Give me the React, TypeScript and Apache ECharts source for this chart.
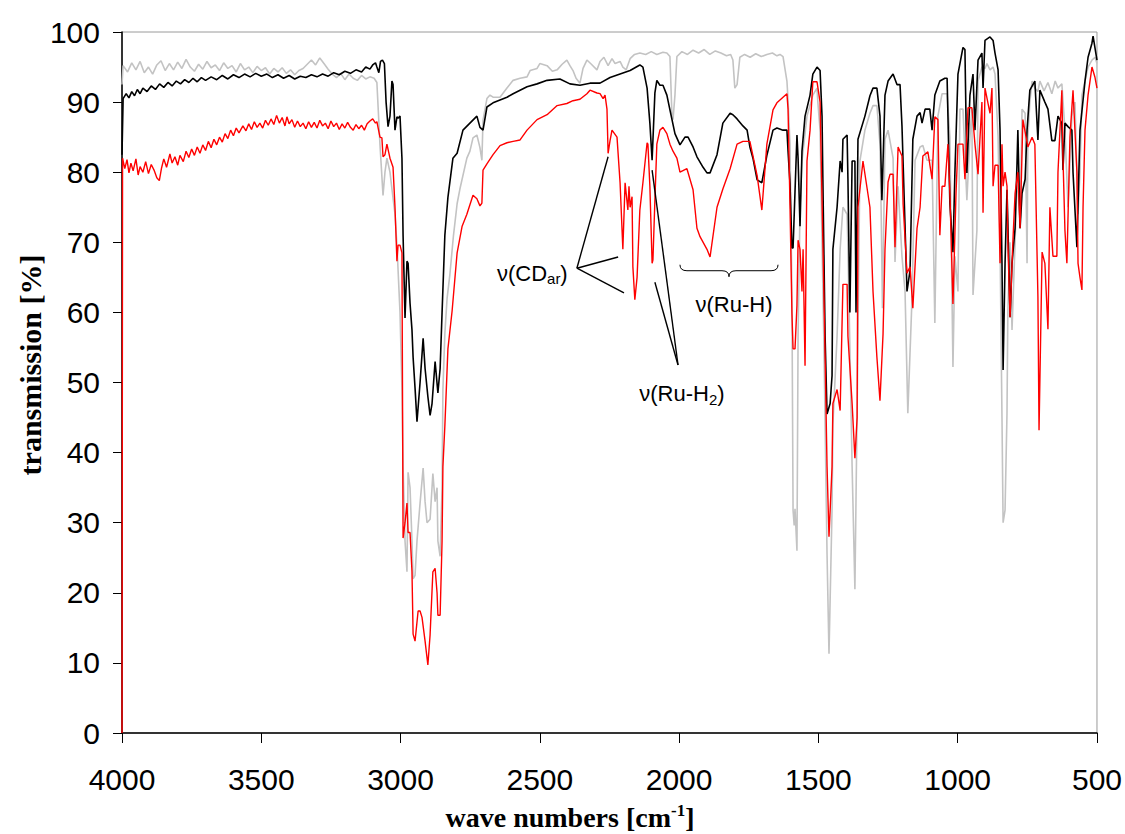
import React, { useEffect, useRef } from "react";
import * as echarts from "echarts";

// wave number [cm-1], transmission [%]
const grayData: [number, number][] = [
[4000,92.5],[3996,95.2],[3980,94.3],[3965,95.6],[3950,94.6],[3935,95.8],[3920,94.2],[3905,95.0],[3890,94.0],[3875,95.3],[3860,95.9],[3845,94.5],[3830,95.5],[3815,94.6],[3800,95.7],[3785,94.8],[3770,96.1],[3755,95.0],[3740,94.4],[3725,95.4],[3710,94.7],[3695,95.8],[3680,94.9],[3665,95.3],[3650,94.5],[3635,95.6],[3620,94.8],[3605,95.2],[3590,94.3],[3575,95.5],[3560,94.6],[3545,95.0],[3530,94.2],[3515,95.1],[3500,94.5],[3485,94.9],[3470,94.0],[3455,94.8],[3440,94.3],[3425,94.9],[3410,94.1],[3395,94.6],[3380,93.9],[3365,94.5],[3350,94.8],[3335,95.4],[3320,96.0],[3305,95.3],[3290,96.3],[3275,95.5],[3260,94.7],[3245,94.0],[3230,93.5],[3215,94.1],[3200,93.2],[3185,94.0],[3170,93.4],[3155,93.1],[3140,93.8],[3125,93.3],[3110,93.6],[3095,93.4],[3085,92.8],[3074,84],[3063,76.7],[3056,80],[3049,82],[3038,80],[3031,77.6],[3020,74],[3013,69.6],[3002,60],[2995,49],[2991,38],[2984,27.4],[2977,23],[2973,37.2],[2966,35],[2959,27.4],[2955,22],[2948,22.5],[2941,27.4],[2930,32.8],[2919,37.8],[2912,33],[2905,30],[2894,30.5],[2884,37],[2876,33],[2869,35],[2866,27.4],[2858,25.2],[2851,35],[2848,49],[2841,57],[2833,62],[2823,65.4],[2810,71],[2797,75.5],[2787,77.6],[2762,82],[2751,83],[2740,84.9],[2726,85.3],[2715,83.5],[2708,81.7],[2704,87.4],[2690,90.5],[2679,91],[2668,90.7],[2643,90.7],[2618,92],[2596,93.1],[2571,93.4],[2546,93.6],[2535,94.5],[2510,94.8],[2500,95.5],[2474,95.2],[2455,94.4],[2438,94.6],[2420,95.4],[2403,96],[2392,95.2],[2381,94.5],[2370,93.4],[2356,92.7],[2345,94.8],[2331,96],[2315,95.4],[2295,94.6],[2284,95.8],[2270,96.4],[2255,95.2],[2241,96.2],[2230,95.5],[2212,95.8],[2202,95],[2190,94.6],[2176,96.2],[2160,96.8],[2141,97],[2120,96.8],[2100,97.2],[2080,96.8],[2058,97.1],[2044,97],[2033,96.5],[2026,88.4],[2022,87.5],[2015,91],[2008,96.5],[1990,97.2],[1970,96.8],[1950,97.4],[1930,97],[1910,97.5],[1890,96.8],[1870,97.3],[1850,97],[1830,96.6],[1815,96.8],[1807,96],[1800,92],[1792,92.5],[1782,96.4],[1765,96.8],[1745,96.4],[1725,96.9],[1705,96.5],[1685,96.8],[1665,97],[1649,96.6],[1638,96.8],[1627,96.5],[1613,93],[1609,90.3],[1602,84],[1595,62],[1591,31.8],[1587,29.6],[1584,32],[1577,26],[1573,56.6],[1566,75],[1559,81.6],[1541,88],[1520,91],[1505,92],[1502,90],[1494,86],[1487,70],[1480,55],[1469,25.5],[1462,11.3],[1451,32],[1448,44],[1433,56.6],[1422,69],[1412,75],[1397,74],[1394,69],[1387,55],[1379,38],[1369,20.5],[1358,56],[1351,81.6],[1333,86],[1315,88.4],[1304,89.5],[1290,89.5],[1279,84],[1275,75],[1270,60.6],[1261,84.7],[1250,86],[1232,82],[1225,67.2],[1214,78],[1200,68],[1189,63],[1179,45.6],[1164,62],[1153,81.7],[1135,83.6],[1125,83.8],[1110,81.7],[1092,81.7],[1082,58.5],[1074,80],[1071,88],[1056,91.2],[1038,91.2],[1028,85],[1017,52.2],[1010,68],[999,63],[992,89],[981,89],[967,76],[956,85],[949,89],[945,62.5],[931,71.7],[927,93],[913,95],[902,94.8],[895,95.5],[884,94.6],[873,95],[866,94],[855,85],[848,70],[841,45],[837,30],[830,31.8],[823,45.6],[820,60],[812,70],[805,57.5],[794,70],[787,80],[776,72],[769,89],[758,88.4],[751,67],[748,85],[741,90],[733,93],[723,92],[712,91.5],[705,93],[690,91.6],[676,92.8],[662,91.2],[650,93],[640,92],[626,92.6],[615,86],[604,75],[590,88],[579,90],[568,74],[561,80],[554,91],[543,93],[532,95],[518,96],[507,96.4],[500,95.5]
];

const blackData: [number, number][] = [
[4000,82.5],[3996,90.5],[3985,91.2],[3975,90.6],[3965,91.5],[3955,90.9],[3945,91.8],[3935,91.2],[3925,92.0],[3910,91.5],[3895,92.3],[3880,91.8],[3865,92.6],[3850,92.1],[3835,92.8],[3820,92.3],[3805,93.0],[3790,92.6],[3775,93.2],[3760,92.8],[3745,93.4],[3730,92.9],[3715,93.5],[3700,93.1],[3680,93.6],[3660,93.2],[3640,93.8],[3620,93.3],[3600,93.9],[3580,93.5],[3560,94.0],[3540,93.6],[3520,94.1],[3500,93.7],[3480,94.0],[3460,93.5],[3440,93.9],[3420,93.4],[3400,93.8],[3380,93.3],[3360,93.7],[3340,93.5],[3320,93.9],[3300,93.6],[3280,94.0],[3260,93.7],[3240,94.2],[3220,93.9],[3200,94.4],[3180,94.1],[3160,94.6],[3140,94.3],[3125,95.0],[3110,94.7],[3100,95.3],[3090,95.6],[3085,95.0],[3078,94.2],[3072,95.8],[3065,96.0],[3058,95.5],[3052,90],[3045,86.5],[3038,88],[3031,93],[3027,92.5],[3020,86],[3013,87.9],[3009,87.7],[3002,88],[2995,82],[2991,71],[2984,59.2],[2977,67.3],[2973,67],[2966,61.3],[2959,57.5],[2955,53.6],[2948,49.2],[2941,44.4],[2930,50],[2919,56.3],[2912,52],[2902,48],[2894,45.3],[2887,47],[2876,53],[2866,48.5],[2858,52],[2851,60],[2841,71],[2830,76.4],[2812,82],[2797,82.7],[2776,86],[2751,87],[2726,88],[2715,86.4],[2704,86],[2690,89.3],[2668,89.9],[2643,90.3],[2618,90.7],[2596,91.2],[2571,91.7],[2546,92.2],[2510,92.6],[2474,93.1],[2428,93.3],[2392,92.6],[2356,92.4],[2320,92.7],[2284,92.7],[2248,93.5],[2212,94],[2176,94.5],[2141,95.3],[2130,95],[2115,92],[2105,87],[2097,81.7],[2087,91.3],[2080,93.1],[2069,92.4],[2058,92.4],[2044,91],[2033,88.9],[2015,85.5],[1997,83.9],[1979,85],[1968,85],[1950,83.6],[1936,82.2],[1914,80.7],[1900,79.9],[1889,79.9],[1864,82.5],[1843,87],[1817,88.4],[1807,88.2],[1792,87.6],[1771,86.6],[1756,86],[1746,83.6],[1735,82],[1720,78.9],[1703,78.5],[1685,82.4],[1663,86],[1649,86.3],[1627,86],[1613,86],[1609,83],[1602,78.4],[1595,69.2],[1591,69.2],[1577,85.3],[1573,82],[1566,72.3],[1559,83],[1548,88],[1530,91],[1520,94],[1505,95],[1494,94.5],[1487,88],[1484,79],[1476,56.6],[1469,45.5],[1458,47],[1451,51],[1448,69],[1433,75],[1422,81.6],[1415,80],[1412,84.7],[1397,85.3],[1394,79],[1387,60],[1379,81.6],[1369,81.6],[1365,60],[1358,84.7],[1333,88],[1315,90.9],[1304,92],[1290,92],[1279,88],[1272,76],[1261,91],[1250,93],[1232,94],[1218,92.5],[1207,92.5],[1200,86.6],[1189,72.3],[1182,63],[1171,66],[1161,84.7],[1146,88],[1135,88.5],[1128,87],[1117,89],[1100,89],[1092,86],[1082,91],[1064,93],[1046,93.4],[1038,93.4],[1035,88],[1028,75.5],[1017,68.6],[1010,80],[999,94],[981,97.8],[974,97.5],[967,79.9],[956,91],[945,94],[938,86],[927,96],[913,97],[909,92],[902,98.8],[884,99.3],[873,98.8],[866,97],[855,94.6],[848,86],[841,67],[837,51.8],[830,67],[823,77.5],[820,73],[812,59.3],[805,67],[794,72],[787,81.3],[784,86],[776,72],[769,77],[758,79],[751,86],[741,91.7],[723,93],[712,84.6],[705,91.7],[687,90],[676,89],[662,84.5],[651,84.5],[640,88],[626,87],[622,80.3],[615,87],[604,86.5],[590,86],[586,80],[572,69.3],[561,86],[543,93],[532,96.4],[518,98.4],[514,99.4],[500,96]
];

const redData: [number, number][] = [
[4000,0],[3998,82],[3990,80.5],[3982,81.8],[3975,79.9],[3968,81.3],[3960,80.2],[3950,81.9],[3942,79.6],[3935,80.8],[3925,80.0],[3915,81.5],[3905,79.8],[3895,81.1],[3885,80.3],[3875,79.2],[3866,78.8],[3858,80.6],[3850,81.9],[3840,80.7],[3828,82.6],[3820,81.3],[3810,82.2],[3800,81.0],[3792,82.4],[3780,81.5],[3770,83.0],[3760,82.1],[3750,83.3],[3740,82.4],[3730,83.6],[3720,82.7],[3710,83.9],[3700,83.1],[3690,84.4],[3680,83.5],[3670,84.7],[3660,83.9],[3650,85.0],[3640,84.3],[3630,85.5],[3620,84.8],[3610,86.0],[3600,85.2],[3590,86.3],[3580,85.6],[3566,86.6],[3555,85.9],[3545,86.9],[3535,86.1],[3525,87.2],[3515,86.4],[3505,87.0],[3495,86.3],[3485,87.4],[3475,86.7],[3465,87.6],[3455,86.8],[3445,88.1],[3435,87.0],[3425,87.8],[3415,86.6],[3408,87.9],[3400,86.9],[3390,87.5],[3380,86.4],[3370,87.3],[3360,86.5],[3350,87.0],[3340,86.2],[3330,87.2],[3320,86.4],[3310,87.1],[3300,86.3],[3290,87.4],[3280,86.6],[3270,87.0],[3260,86.2],[3250,87.3],[3240,86.5],[3230,87.0],[3220,86.1],[3210,86.9],[3200,86.3],[3190,87.1],[3180,86.4],[3170,86.0],[3160,86.8],[3150,86.2],[3140,86.7],[3130,86.0],[3120,86.9],[3110,87.3],[3100,87.6],[3090,87.0],[3085,87.2],[3074,85],[3067,84.9],[3063,82.2],[3056,82.5],[3049,84],[3038,82],[3027,80.7],[3020,75],[3013,67.3],[3009,69.6],[3002,69.6],[2995,68.5],[2991,27.8],[2984,30],[2977,32.8],[2973,28.6],[2966,28.6],[2959,23],[2955,14.1],[2948,13.1],[2937,17.4],[2930,17.4],[2923,16.5],[2912,13.1],[2902,9.7],[2894,14],[2884,23],[2876,23.5],[2869,20],[2866,16.8],[2858,16.8],[2851,27.4],[2848,38],[2841,43.8],[2830,54.8],[2815,60.2],[2797,68.5],[2779,72.3],[2762,74],[2740,76.7],[2726,76.2],[2715,75.2],[2708,75.6],[2704,80.3],[2690,81.2],[2668,82.5],[2643,83.8],[2618,84.2],[2596,84.4],[2571,84.6],[2546,86],[2510,87.5],[2474,88.2],[2438,89.5],[2403,89.8],[2381,90.2],[2356,90.4],[2331,91.2],[2320,91.7],[2295,91.3],[2284,91.2],[2273,90.5],[2266,91],[2259,89],[2255,82.7],[2248,84.5],[2241,86],[2223,85],[2212,78.5],[2202,69],[2194,78.5],[2184,74.6],[2180,78],[2176,75],[2169,76.5],[2166,66.5],[2159,61.8],[2151,65],[2141,74.6],[2130,78.5],[2115,84.2],[2112,84],[2105,78],[2097,67],[2094,67.5],[2087,76],[2080,84],[2069,86],[2058,86.4],[2044,85.5],[2033,84],[2022,83],[2008,82],[1997,80],[1972,80.5],[1950,77.5],[1936,72],[1925,70.8],[1900,69],[1889,67.9],[1864,75],[1843,77.6],[1817,80.5],[1792,84],[1771,84.4],[1746,84.4],[1720,79.5],[1703,74.6],[1685,84],[1663,88.9],[1649,89.9],[1627,90.7],[1613,91.2],[1609,89],[1602,75.3],[1595,59.8],[1591,54.8],[1584,54.8],[1577,61],[1573,70.3],[1566,69],[1559,63],[1555,69],[1548,52.4],[1541,81.6],[1530,86],[1520,92.9],[1505,92.9],[1494,90],[1484,70],[1476,53.6],[1469,38],[1462,28],[1451,38],[1448,47],[1433,49],[1422,46],[1412,64],[1397,64],[1394,56.6],[1379,47],[1369,39.2],[1361,45],[1358,75],[1340,81.6],[1315,75],[1304,63],[1290,53.6],[1279,47.4],[1268,56.9],[1261,69],[1250,78.6],[1243,79.7],[1232,79.7],[1225,69.3],[1214,83.6],[1200,82.3],[1196,75.5],[1182,65.6],[1171,66.5],[1161,60.6],[1146,72],[1135,75],[1125,82.3],[1107,82.9],[1092,79],[1082,87.9],[1071,87.5],[1064,71],[1056,78],[1046,78],[1035,84],[1028,77],[1017,61.2],[1006,77],[999,84],[981,84],[974,79],[963,89.2],[949,89.2],[938,84],[927,79.7],[913,90],[909,74.2],[902,92],[884,88.4],[877,92],[873,78],[866,81],[855,81],[848,67],[841,84],[837,78],[830,80],[823,78],[820,70],[812,59.3],[802,70],[794,77],[784,80],[776,72],[766,87.5],[748,83.6],[733,85],[723,84],[712,62.2],[708,43.2],[697,68.6],[687,67],[676,57.6],[669,75],[658,68],[644,68],[640,80],[626,91.7],[622,82],[615,71.7],[608,67],[597,85],[586,91.7],[572,80],[568,67],[561,65],[554,63.2],[550,75],[543,86],[532,91],[518,95],[507,93.5],[500,92]
];

const xTicks = { min: 500, max: 4000, interval: 500 };
const yTicks = { min: 0, max: 100, interval: 10 };

// annotation anchors in data coordinates [wave number, transmission]
const cdVertex: [number, number] = [2367, 66.3];
const cdTargets: [number, number][] = [[2255, 82.2], [2219, 67.9], [2198, 62.8]];
const cdLabelPos: [number, number] = [2400, 65.6];
const ruh2Vertex: [number, number] = [2004, 52.5];
const ruh2Targets: [number, number][] = [[2097, 80.3], [2087, 64.3]];
const ruh2LabelPos: [number, number] = [1990, 48.4];
const braceFrom: [number, number] = [1997, 66.8];
const braceTo: [number, number] = [1645, 66.8];
const ruhLabelPos: [number, number] = [1803, 61.1];

const SANS = "'Liberation Sans', Arial, sans-serif";
const SERIF = "'Liberation Serif', 'Times New Roman', serif";

export default function App() {
  const ref = useRef<HTMLDivElement>(null);
  useEffect(() => {
    const chart = echarts.init(ref.current!, null, { renderer: "svg" });
    chart.setOption({
      animation: false,
      backgroundColor: "#fff",
      grid: { left: 122, right: 28, top: 32, bottom: 101, show: true, borderColor: "#9a9a9a", borderWidth: 1 },
      xAxis: {
        type: "value", inverse: true, min: xTicks.min, max: xTicks.max, interval: xTicks.interval,
        axisLine: { show: true, lineStyle: { color: "#000", width: 1.5 } },
        axisTick: { show: true, inside: false, length: 10, lineStyle: { color: "#000", width: 1 } },
        axisLabel: { color: "#000", fontSize: 30, fontFamily: SANS, margin: 31, formatter: (v: number) => String(v) },
        splitLine: { show: false },
      },
      yAxis: {
        type: "value", min: yTicks.min, max: yTicks.max, interval: yTicks.interval,
        axisLine: { show: true, lineStyle: { color: "#000", width: 1.5 } },
        axisTick: { show: true, inside: false, length: 9, lineStyle: { color: "#000", width: 1 } },
        axisLabel: { color: "#000", fontSize: 30, fontFamily: SANS, margin: 22, formatter: (v: number) => String(v) },
        splitLine: { show: false },
      },
      series: [
        { type: "line", data: grayData, showSymbol: false, symbol: "none", lineStyle: { color: "#c3c3c3", width: 1.6 }, z: 2 },
        { type: "line", data: blackData, showSymbol: false, symbol: "none", lineStyle: { color: "#000", width: 1.6 }, z: 3 },
        { type: "line", data: redData, showSymbol: false, symbol: "none", lineStyle: { color: "#ff0000", width: 1.4 }, z: 4 },
      ],
    });

    const px = (p: [number, number]) => chart.convertToPixel({ xAxisIndex: 0, yAxisIndex: 0 }, p) as number[];
    const lineStyle = { stroke: "#000", lineWidth: 1.4 };
    const graphics: any[] = [];
    const v1 = px(cdVertex);
    cdTargets.forEach((t) => {
      const q = px(t);
      graphics.push({ type: "line", shape: { x1: v1[0], y1: v1[1], x2: q[0], y2: q[1] }, style: lineStyle, z: 10 });
    });
    const v2 = px(ruh2Vertex);
    ruh2Targets.forEach((t) => {
      const q = px(t);
      graphics.push({ type: "line", shape: { x1: v2[0], y1: v2[1], x2: q[0], y2: q[1] }, style: lineStyle, z: 10 });
    });
    // brace
    const b0 = px(braceFrom);
    const b1 = px(braceTo);
    const xc = (b0[0] + b1[0]) / 2;
    const y0 = b0[1];
    const yl = y0 + 6;
    const yn = y0 + 12;
    const bs = { stroke: "#000", lineWidth: 1, fill: "none" };
    graphics.push(
      { type: "bezierCurve", shape: { x1: b0[0], y1: y0, x2: b0[0] + 7, y2: yl, cpx1: b0[0], cpy1: yl }, style: bs, z: 10 },
      { type: "line", shape: { x1: b0[0] + 7, y1: yl, x2: xc - 7, y2: yl }, style: bs, z: 10 },
      { type: "bezierCurve", shape: { x1: xc - 7, y1: yl, x2: xc, y2: yn, cpx1: xc, cpy1: yl }, style: bs, z: 10 },
      { type: "bezierCurve", shape: { x1: xc, y1: yn, x2: xc + 7, y2: yl, cpx1: xc, cpy1: yl }, style: bs, z: 10 },
      { type: "line", shape: { x1: xc + 7, y1: yl, x2: b1[0] - 7, y2: yl }, style: bs, z: 10 },
      { type: "bezierCurve", shape: { x1: b1[0] - 7, y1: yl, x2: b1[0], y2: y0, cpx1: b1[0], cpy1: yl }, style: bs, z: 10 },
    );
    const rich = {
      a: { fontSize: 22, fontFamily: SANS, fill: "#000", lineHeight: 26 },
      s: { fontSize: 15, fontFamily: SANS, fill: "#000", verticalAlign: "bottom", lineHeight: 20, padding: [10, 0, 0, 0] },
    };
    const cl = px(cdLabelPos);
    graphics.push({
      type: "text", x: cl[0], y: cl[1], z: 10,
      style: { text: "{a|ν(CD}{s|ar}{a|)}", rich, align: "right", verticalAlign: "middle" },
    });
    const rl = px(ruh2LabelPos);
    graphics.push({
      type: "text", x: rl[0], y: rl[1], z: 10,
      style: { text: "{a|ν(Ru-H}{s|2}{a|)}", rich, align: "center", verticalAlign: "middle" },
    });
    const hl = px(ruhLabelPos);
    graphics.push({
      type: "text", x: hl[0], y: hl[1], z: 10,
      style: { text: "ν(Ru-H)", fontSize: 22, fontFamily: SANS, fill: "#000", align: "center", verticalAlign: "middle" },
    });
    // axis titles
    graphics.push({
      type: "text", x: 30, y: 365, rotation: Math.PI / 2, z: 10,
      style: { text: "transmission [%]", fontSize: 30, fontWeight: "bold", fontFamily: SERIF, fill: "#000", align: "center", verticalAlign: "middle" },
    });
    graphics.push({
      type: "text", x: 570, y: 817, z: 10,
      style: {
        text: "{t|wave numbers [cm}{p|-1}{t|]}", align: "center", verticalAlign: "middle",
        rich: {
          t: { fontSize: 28, fontWeight: "bold", fontFamily: SERIF, fill: "#000", lineHeight: 30 },
          p: { fontSize: 17, fontWeight: "bold", fontFamily: SERIF, fill: "#000", verticalAlign: "top", lineHeight: 30, padding: [0, 0, 12, 0] },
        },
      },
    });
    chart.setOption({ graphic: graphics });
    return () => chart.dispose();
  }, []);
  return <div ref={ref} style={{ position: "fixed", left: 0, top: 0, width: 1125, height: 834, background: "#fff" }} />;
}
